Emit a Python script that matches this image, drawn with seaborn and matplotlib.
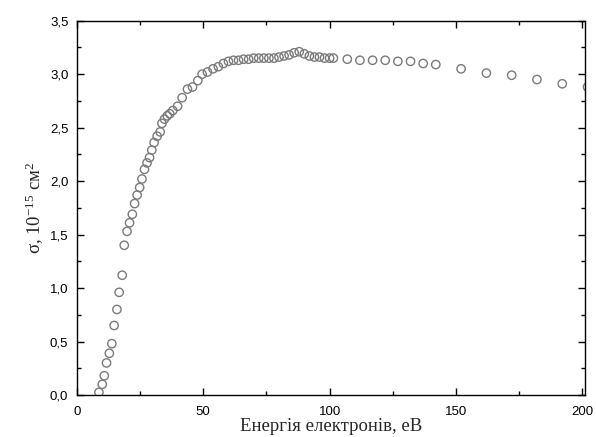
import matplotlib
matplotlib.use("Agg")
import matplotlib.pyplot as plt
import seaborn as sns
import pandas as pd
from matplotlib.ticker import MultipleLocator, FuncFormatter

energy = [8.8, 10.1, 10.9, 11.8, 12.9, 13.9, 14.8, 15.9, 16.8, 18.0, 18.8, 19.9, 20.9,
          22.0, 22.9, 23.9, 24.9, 25.8, 26.8, 27.8, 28.8, 29.7, 30.6, 31.8, 33.0, 33.7,
          34.7, 35.8, 36.8, 38.0, 39.9, 41.7, 43.8, 45.8, 47.9, 49.6, 51.7, 53.9, 56.0,
          58.0, 60.0, 62.0, 64.0, 66.0, 68.0, 70.0, 72.0, 74.0, 76.0, 78.0, 80.0, 82.0,
          84.0, 86.0, 88.0, 90.0, 92.0, 94.0, 96.0, 98.0, 100.0, 101.5,
          107, 112, 117, 122, 127, 132, 137, 142, 152, 162, 172, 182, 192, 202]
sigma = [0.025, 0.10, 0.18, 0.30, 0.39, 0.48, 0.65, 0.80, 0.96, 1.12, 1.40, 1.53, 1.61,
         1.69, 1.79, 1.87, 1.94, 2.02, 2.11, 2.17, 2.22, 2.29, 2.36, 2.42, 2.46, 2.54,
         2.58, 2.61, 2.63, 2.66, 2.70, 2.78, 2.86, 2.88, 2.94, 3.00, 3.02, 3.05, 3.07,
         3.10, 3.12, 3.13, 3.13, 3.14, 3.14, 3.15, 3.15, 3.15, 3.15, 3.15, 3.16, 3.17,
         3.18, 3.20, 3.21, 3.19, 3.17, 3.16, 3.16, 3.15, 3.15, 3.15,
         3.14, 3.13, 3.13, 3.13, 3.12, 3.12, 3.10, 3.09, 3.05, 3.01, 2.99, 2.95, 2.91, 2.88]

df = pd.DataFrame({"E": energy, "s": sigma})

sns.set_theme(style="ticks")
plt.rcParams["font.family"] = ["Liberation Sans", "DejaVu Sans"]
plt.rcParams["mathtext.fontset"] = "custom"
plt.rcParams["mathtext.rm"] = "Liberation Serif"
plt.rcParams["mathtext.it"] = "Liberation Serif:italic"
plt.rcParams["mathtext.bf"] = "Liberation Serif:bold"

fig = plt.figure(figsize=(5.96, 4.37), dpi=100)
ax = fig.add_axes([76.7 / 596, 1 - 395 / 437, (585 - 76.7) / 596, (395 - 20.7) / 437])

sns.scatterplot(data=df, x="E", y="s", ax=ax, marker="o", s=36,
                facecolor="none", edgecolor="#7a7a7a", linewidth=1.0, legend=False)

ax.set_xlim(0, 201)
ax.set_ylim(0, 3.5)
ax.xaxis.set_major_locator(MultipleLocator(50))
ax.xaxis.set_minor_locator(MultipleLocator(25))
ax.yaxis.set_major_locator(MultipleLocator(0.5))
ax.yaxis.set_minor_locator(MultipleLocator(0.25))
ax.yaxis.set_major_formatter(FuncFormatter(lambda v, p: f"{v:.1f}".replace(".", ",")))
ax.xaxis.set_major_formatter(FuncFormatter(lambda v, p: f"{v:.0f}"))

ax.tick_params(which="both", direction="in", top=True, right=True, colors="black",
               labelsize=9.5, width=1.0)
ax.tick_params(which="major", length=5)
ax.tick_params(which="minor", length=3)
ax.tick_params(axis="x", pad=8)
ax.tick_params(axis="y", pad=6)
for sp in ax.spines.values():
    sp.set_linewidth(1.0)
    sp.set_color("black")

ax.set_xlabel("Енергія електронів, еВ", family=["Liberation Serif", "DejaVu Serif"],
              fontsize=13.5, labelpad=0)
ax.set_ylabel(r"σ, 10$^{\mathrm{-15}}$ см$^{\mathrm{2}}$", family=["Liberation Serif", "DejaVu Serif"],
              fontsize=13.5, labelpad=3)

fig.savefig("out.png", dpi=100)
